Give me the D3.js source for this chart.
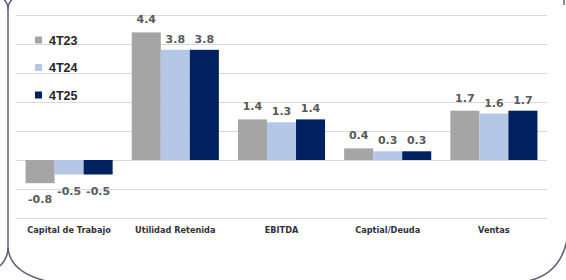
<!DOCTYPE html>
<html>
<head>
<meta charset="utf-8">
<script src="https://cdn.jsdelivr.net/npm/d3@7"></script>
<style>
  body { margin: 0; background: #fff; }
  .val { font-family: "DejaVu Sans", sans-serif; font-weight: bold; font-size: 11px; fill: #595959; }
  .cat { font-family: "DejaVu Sans", sans-serif; font-weight: bold; font-size: 8.2px; fill: #333; }
  .leg { font-family: "Liberation Sans", Arial, sans-serif; font-weight: bold; font-size: 12.5px; fill: #262626; }
</style>
</head>
<body>
<svg width="566" height="280"></svg>
<script>
var categories = ["Capital de Trabajo", "Utilidad Retenida", "EBITDA", "Captial/Deuda", "Ventas"];
var seriesNames = ["4T23", "4T24", "4T25"];
var s4T23 = [-0.8, 4.4, 1.4, 0.4, 1.7];
var s4T24 = [-0.5, 3.8, 1.3, 0.3, 1.6];
var s4T25 = [-0.5, 3.8, 1.4, 0.3, 1.7];
var colors = ["#a5a5a5", "#b4c7e7", "#002060"];
var gridTicks = [-2, -1, 0, 1, 2, 3, 4, 5];

var svg = d3.select("svg");
var allSeries = [s4T23, s4T24, s4T25];

var x = d3.scaleBand()
  .domain(categories)
  .range([16, 547])
  .paddingInner(0.18)
  .paddingOuter(0.09);

var xs = d3.scaleBand()
  .domain(seriesNames)
  .range([0, x.bandwidth()]);

var y = d3.scaleLinear()
  .domain([-2, 5])
  .range([218, 15]);

// gridlines
svg.append("g")
  .selectAll("line")
  .data(gridTicks)
  .enter().append("line")
  .attr("x1", 16)
  .attr("x2", 547)
  .attr("y1", function (d) { return Math.round(y(d)) + 0.5; })
  .attr("y2", function (d) { return Math.round(y(d)) + 0.5; })
  .attr("stroke", "#d9d9d9")
  .attr("stroke-width", 1);

// bars
var rows = [];
categories.forEach(function (c, i) {
  seriesNames.forEach(function (s, j) {
    rows.push({ cat: c, ser: s, idx: j, value: allSeries[j][i] });
  });
});

svg.append("g")
  .selectAll("rect")
  .data(rows)
  .enter().append("rect")
  .attr("x", function (d) { return x(d.cat) + xs(d.ser); })
  .attr("width", xs.bandwidth())
  .attr("y", function (d) { return y(Math.max(0, d.value)); })
  .attr("height", function (d) { return Math.abs(y(d.value) - y(0)); })
  .attr("fill", function (d) { return colors[d.idx]; });

// value labels
svg.append("g")
  .selectAll("text")
  .data(rows)
  .enter().append("text")
  .attr("class", "val")
  .attr("text-anchor", "middle")
  .attr("x", function (d) { return x(d.cat) + xs(d.ser) + xs.bandwidth() / 2; })
  .attr("y", function (d) {
    if (d.value < 0) return y(d.value) + 20;
    return y(d.value) - (d.idx == 0 ? 9 : 7);
  })
  .text(function (d) { return d.value.toFixed(1); });

// category labels
svg.append("g")
  .selectAll("text")
  .data(categories)
  .enter().append("text")
  .attr("class", "cat")
  .attr("text-anchor", "middle")
  .attr("x", function (d) { return x(d) + x.bandwidth() / 2; })
  .attr("y", 233)
  .text(function (d) { return d; });

// legend
var leg = svg.append("g")
  .selectAll("g")
  .data(seriesNames)
  .enter().append("g")
  .attr("transform", function (d, i) { return "translate(35," + (40 + i * 27.5) + ")"; });
leg.append("rect")
  .attr("x", 0).attr("y", -3.5)
  .attr("width", 7).attr("height", 7)
  .attr("fill", function (d, i) { return colors[i]; });
leg.append("text")
  .attr("class", "leg")
  .attr("x", 14)
  .attr("y", 4.5)
  .text(function (d) { return d; });

// frame lines
var frame = svg.append("g")
  .attr("fill", "none")
  .attr("stroke", "#5b6079")
  .attr("stroke-width", 1.5);
frame.append("path").attr("d", "M8,9 L8,248");
frame.append("path").attr("d", "M8,9 Q8,2 2,-2");
frame.append("path").attr("d", "M8,9 Q8,2 14,-2");
frame.append("path").attr("d", "M8,248 Q8,258 0,266");
frame.append("path").attr("d", "M8,248 Q10,272 46,281");
frame.append("path").attr("d", "M567,240 Q560,274 528,281");
frame.append("path").attr("d", "M564,0 L564,5");
</script>
</body>
</html>
